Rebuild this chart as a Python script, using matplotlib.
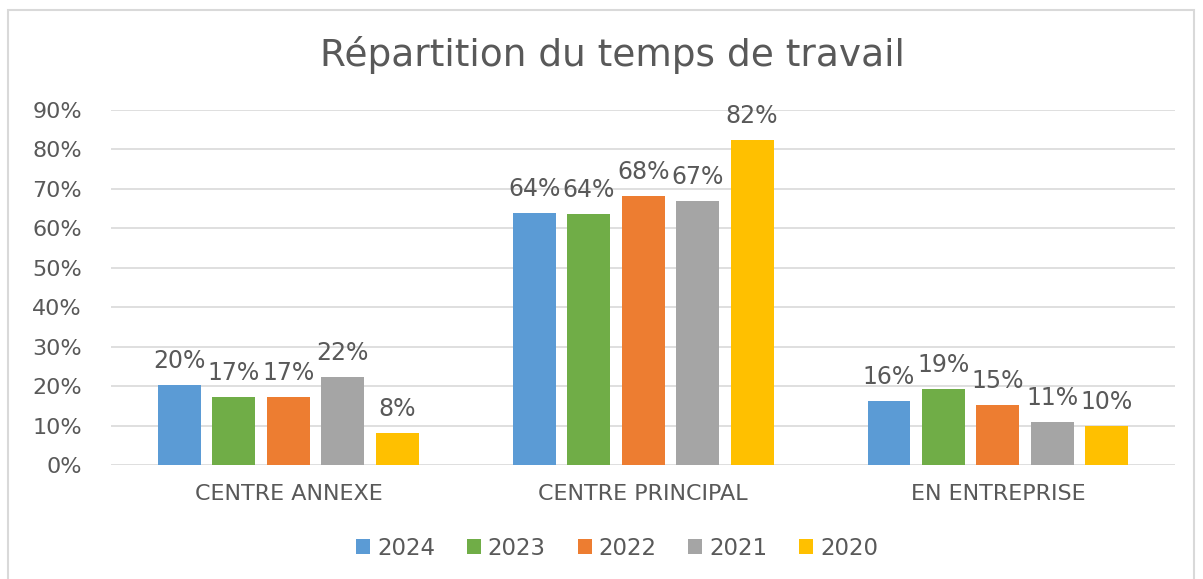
import matplotlib.pyplot as plt
import matplotlib.patches as mpatches
import numpy as np

plt.rcParams['font.family'] = ['DejaVu Sans']

categories = ["CENTRE ANNEXE", "CENTRE PRINCIPAL", "EN ENTREPRISE"]
years = ["2024", "2023", "2022", "2021", "2020"]
v2024 = [0.202, 0.640, 0.162]
v2023 = [0.172, 0.636, 0.192]
v2022 = [0.172, 0.682, 0.153]
v2021 = [0.222, 0.670, 0.109]
v2020 = [0.081, 0.823, 0.100]
series = [v2024, v2023, v2022, v2021, v2020]
colors = ["#5B9BD5", "#70AD47", "#ED7D31", "#A5A5A5", "#FFC000"]

txt = "#595959"

fig = plt.figure(figsize=(12.03, 5.79), dpi=100)
ax = fig.add_axes([0.0923, 0.197, 0.8847, 0.613])

x = np.arange(len(categories))
width = 0.121
step = 0.1535
for i, (vals, c, yr) in enumerate(zip(series, colors, years)):
    pos = x + (i - 2) * step
    bars = ax.bar(pos, vals, width, color=c, label=yr, zorder=3)
    for b, v in zip(bars, vals):
        ax.text(b.get_x() + b.get_width() / 2, v + 0.043, "{:.0%}".format(v),
                ha="center", va="baseline", fontsize=17, color=txt)

ax.set_xlim(-0.5, 2.5)
ax.set_ylim(0, 0.9)
ax.set_yticks(np.arange(0, 0.91, 0.1))
ax.set_yticklabels(["{}%".format(int(round(t * 100))) for t in np.arange(0, 0.91, 0.1)],
                   fontsize=16, color=txt)
ax.set_xticks(x)
ax.set_xticklabels(categories, fontsize=16, color=txt)
ax.tick_params(axis="both", length=0)
ax.tick_params(axis="y", pad=21)
ax.tick_params(axis="x", pad=14)
ax.grid(axis="y", color="#D9D9D9", linewidth=1.2, zorder=0)
for s in ax.spines.values():
    s.set_visible(False)

fig.text(0.5095, 0.905, "Répartition du temps de travail", ha="center", va="center",
         fontsize=27, color=txt)

fig.legend(loc="center", bbox_to_anchor=(0.513, 0.053), ncol=5, frameon=False,
           fontsize=16.5, handlelength=0.6, handleheight=0.6, handletextpad=0.3,
           columnspacing=1.4, labelcolor=txt)

fig.patches.append(mpatches.Rectangle((0.0067, -0.01), 0.986, 0.993, transform=fig.transFigure,
                                      fill=False, edgecolor="#D9D9D9", linewidth=1.5))

fig.savefig("out.png", dpi=100, facecolor="white")
